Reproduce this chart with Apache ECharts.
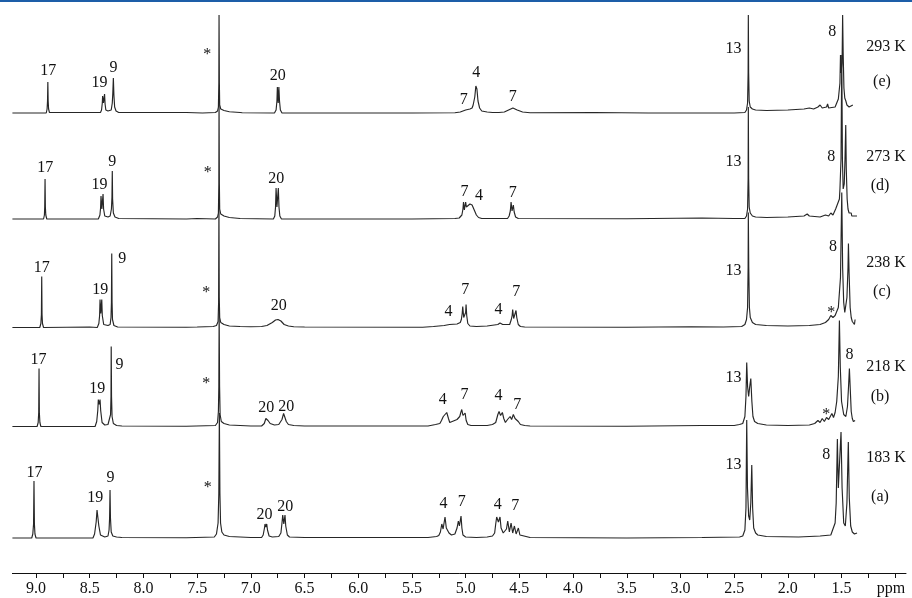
<!DOCTYPE html>
<html>
<head>
<meta charset="utf-8">
<script src="https://cdn.jsdelivr.net/npm/echarts@6/dist/echarts.min.js"></script>
<style>html,body{margin:0;padding:0;background:#fff}#c{width:912px;height:598px}</style>
</head>
<body>
<div id="c"></div>
<script>
// ---- tick values (ppm) ----
const tickValues = [9.0,8.75,8.5,8.25,8.0,7.75,7.5,7.25,7.0,6.75,6.5,6.25,6.0,5.75,5.5,5.25,5.0,4.75,4.5,4.25,4.0,3.75,3.5,3.25,3.0,2.75,2.5,2.25,2.0,1.75,1.5,1.25,1.0];
const labelValues = [9.0,8.5,8.0,7.5,7.0,6.5,6.0,5.5,5.0,4.5,4.0,3.5,3.0,2.5,2.0,1.5];
const unitLabel = 'ppm';

// ---- temperatures / panel letters (top to bottom) ----
const temps = ['293 K','273 K','238 K','218 K','183 K'];
const panels = ['(e)','(d)','(c)','(b)','(a)'];

// ---- spectra: [ppm, intensity] ----
const spec293 = [[9.22,0],[8.905,0],[8.897,4],[8.893,12],[8.89,31],[8.887,12],[8.883,4],[8.875,0.5],
[8.40,0.5],[8.39,3],[8.383,10],[8.38,17],[8.372,10],[8.366,12],[8.362,19],[8.357,9],[8.35,3],
[8.33,2],[8.30,3],[8.29,10],[8.285,20],[8.28,35],[8.275,18],[8.268,6],[8.255,2],[8.23,0.5],
[7.6,0.5],[7.45,0],[7.33,0.5],[7.31,2],[7.302,6],[7.298,30],[7.296,98],[7.293,30],[7.29,8],[7.28,4],[7.25,2.5],[7.2,1.2],[7.1,0.5],
[7.09,0.3],[7.085,2],[7.08,0.3],
[6.78,0],[6.765,3],[6.757,12],[6.753,26],[6.745,10],[6.739,26],[6.733,12],[6.725,3],[6.71,0],
[6.45,0],[6.445,2],[6.44,0],
[5.5,0],[5.1,0.3],[5.05,1],[5.0,3],[4.96,4],[4.94,5],[4.93,8],[4.915,16],[4.905,27],[4.895,24],[4.885,12],[4.87,5],[4.85,2],[4.8,1],[4.75,0.5],
[4.71,0.5],[4.70,2],[4.69,0.5],
[4.64,1],[4.6,3],[4.56,5],[4.52,3],[4.47,1],[4.4,0.3],
[3.8,0.5],[3.3,0],[2.52,0],[2.51,2],[2.50,0],
[2.40,0.5],[2.385,3],[2.375,10],[2.37,40],[2.368,98],[2.365,40],[2.36,12],[2.35,6],[2.33,4],[2.3,3],[2.2,2.5],[2.0,3],[1.85,4],
[1.80,5],[1.76,4],[1.72,6],[1.70,8],[1.68,5],[1.64,6],[1.63,9],[1.62,5],
[1.56,6],[1.53,14],[1.515,30],[1.51,58],[1.505,40],[1.495,50],[1.49,98],[1.485,60],[1.478,25],[1.47,15],[1.46,12],[1.45,8],[1.44,10],[1.43,6],[1.395,8]];

const spec273 = [[9.22,0],[8.93,0],[8.922,4],[8.919,12],[8.916,40],[8.913,12],[8.909,4],[8.9,0],
[8.42,0],[8.405,4],[8.399,11],[8.395,23],[8.387,10],[8.38,12],[8.376,25],[8.371,10],[8.36,3],[8.33,2],
[8.31,3],[8.298,10],[8.293,22],[8.29,48],[8.287,20],[8.28,6],[8.265,2],[8.23,0.5],
[7.6,0],[7.5,0.5],[7.33,0],[7.31,2],[7.302,6],[7.298,35],[7.296,120],[7.293,35],[7.29,10],[7.28,5],[7.25,3],[7.2,1.5],[7.1,0.5],
[6.79,0],[6.777,3],[6.77,12],[6.765,31],[6.757,12],[6.749,12],[6.744,31],[6.738,12],[6.73,3],[6.715,0],
[5.5,0],[5.1,0.5],[5.06,1],[5.035,4],[5.025,10],[5.02,17],[5.012,9],[5.004,10],[5.0,17],[4.993,12],[4.98,13],[4.96,15],[4.94,14],[4.92,9],[4.9,4],[4.88,1.5],[4.85,0.5],
[4.61,0.5],[4.595,3],[4.584,8],[4.577,17],[4.568,8],[4.561,8],[4.556,14],[4.548,7],[4.535,2],[4.51,0.5],
[3.5,0.3],[2.8,1],[2.5,0.5],
[2.40,0.5],[2.385,3],[2.375,10],[2.37,40],[2.368,112],[2.365,40],[2.36,12],[2.35,6],[2.33,3],[2.3,2],[2.2,1.5],[2.0,2],
[1.85,3],[1.82,5],[1.80,3],[1.70,2],[1.65,4],[1.62,3],[1.60,6],[1.58,4],[1.555,10],[1.54,8],[1.52,20],
[1.515,30],[1.505,60],[1.498,164],[1.492,60],[1.485,30],[1.475,35],[1.468,60],[1.461,94],[1.456,50],[1.448,20],[1.44,10],[1.43,6],[1.42,4],[1.41,6],[1.405,3],[1.356,3]];

const spec238 = [[9.22,0],[8.965,0],[8.955,4],[8.95,13],[8.947,51],[8.944,13],[8.94,4],[8.93,0],
[8.5,0.5],[8.43,0],[8.415,4],[8.408,12],[8.404,28],[8.397,14],[8.392,14],[8.388,28],[8.383,12],[8.37,3],[8.33,2],
[8.31,3],[8.302,10],[8.298,25],[8.295,74],[8.292,25],[8.288,8],[8.275,2],[8.24,0.5],
[7.6,0.3],[7.5,0.5],[7.35,1],[7.32,2],[7.305,6],[7.3,25],[7.297,125],[7.294,30],[7.29,10],[7.28,5],[7.25,3],[7.2,1.5],[7.1,1],[7.0,0.8],
[6.9,1],[6.85,2],[6.8,5],[6.77,7.5],[6.747,8],[6.72,6.5],[6.69,3],[6.65,1.5],[6.6,0.8],[6.5,0.5],
[5.4,0.3],[5.3,1],[5.2,2],[5.15,3],[5.08,3.5],[5.05,5],
[5.04,8],[5.032,14],[5.027,21],[5.018,10],[5.012,9],[5.0,15],[4.996,23],[4.99,12],[4.98,4],[4.96,1.5],[4.9,1],[4.8,1.5],[4.7,3],[4.68,4.5],[4.664,5.7],[4.655,3],[4.64,2],
[4.59,3],[4.575,8],[4.567,12],[4.562,18],[4.553,9],[4.54,9],[4.531,17],[4.524,10],[4.51,3],[4.49,1],[4.45,0.5],
[3.5,0.3],[2.9,0.8],[2.6,0.5],
[2.43,1],[2.40,3],[2.385,8],[2.375,20],[2.37,60],[2.368,115],[2.364,60],[2.358,20],[2.35,10],[2.33,5],[2.3,3],[2.2,2],[2.0,1.5],[1.8,2],[1.7,3],
[1.65,5],[1.62,8],[1.6,12],[1.59,14],[1.58,10],[1.57,8],[1.56,12],
[1.53,20],[1.51,50],[1.498,135],[1.49,60],[1.48,25],[1.47,15],[1.46,14],[1.45,30],[1.44,60],[1.436,84],[1.43,55],[1.42,20],[1.41,10],[1.40,6],[1.39,4],[1.38,3],[1.374,8]];

const spec218 = [[9.22,0],[8.99,0],[8.98,4],[8.975,14],[8.972,58],[8.969,14],[8.964,4],[8.955,0],
[8.45,0],[8.435,5],[8.425,16],[8.42,27],[8.413,22],[8.404,27],[8.398,16],[8.385,4],[8.36,1.5],[8.33,2],
[8.315,4],[8.306,12],[8.302,30],[8.30,80],[8.297,30],[8.292,10],[8.28,3],[8.25,1],[8.2,0.5],
[7.6,0.3],[7.33,1],[7.31,4],[7.302,15],[7.298,40],[7.295,115],[7.291,40],[7.286,12],[7.275,5],[7.25,3],[7.2,1.5],[7.1,1],[7.0,0.5],
[6.9,0.5],[6.875,3],[6.86,8],[6.852,9],[6.84,6],[6.82,3],[6.78,1.5],[6.74,2],[6.71,7],[6.695,13],[6.685,12],[6.67,5],[6.65,2],[6.6,1],[6.5,0.5],
[5.35,0.5],[5.28,2],[5.24,3],[5.225,6],[5.208,10],[5.195,8],[5.176,14],[5.16,8],[5.148,4],[5.13,5],
[5.08,7],[5.055,10],[5.045,14],[5.036,17],[5.025,11],[5.015,12],[5.005,13.5],[4.995,6],[4.98,2],[4.95,1],[4.8,1],[4.75,2],
[4.72,4],[4.70,12],[4.689,15],[4.675,11],[4.658,14],[4.645,8],[4.63,4],
[4.61,7],[4.597,8],[4.586,10],[4.572,7],[4.556,12],[4.54,8],[4.524,10],[4.51,5],[4.49,2],[4.45,1],[4.4,0.5],
[3.5,0.3],[2.8,1],[2.5,1],[2.45,2],
[2.42,3],[2.40,10],[2.39,30],[2.383,64],[2.375,40],[2.365,30],[2.355,40],[2.345,48],[2.335,25],[2.325,10],[2.31,5],[2.28,3],[2.2,1.5],[2.0,1],[1.8,1.5],
[1.75,3],[1.72,6],[1.70,4],[1.68,8],[1.66,5],[1.64,9],[1.62,7],[1.59,13],[1.575,9],[1.56,14],
[1.545,25],[1.53,50],[1.52,106],[1.512,60],[1.50,25],[1.48,12],[1.46,10],[1.445,20],[1.435,40],[1.427,58],[1.42,40],[1.41,15],[1.40,8],[1.39,5],[1.374,6]];

const spec183 = [[9.22,0],[9.04,0],[9.03,4],[9.023,14],[9.019,57],[9.015,14],[9.01,4],[9.0,0],
[8.47,0],[8.455,4],[8.44,16],[8.432,28],[8.425,26],[8.415,12],[8.4,3],[8.36,1],
[8.33,2],[8.32,8],[8.315,20],[8.311,48],[8.307,20],[8.3,6],[8.285,2],[8.25,1],[8.2,0.5],
[7.6,0.3],[7.34,1],[7.32,4],[7.305,15],[7.298,45],[7.293,125],[7.288,45],[7.282,15],[7.27,6],[7.25,3],[7.2,1.5],[7.1,1],[7.0,0.5],
[6.9,0.5],[6.885,3],[6.873,10],[6.868,14],[6.86,11],[6.852,14],[6.845,8],[6.83,2],[6.8,1],[6.74,1.5],[6.72,5],[6.71,15],[6.703,23],[6.693,14],[6.682,23],[6.675,12],[6.66,3],[6.64,1],[6.5,0.5],
[5.35,0.5],[5.27,1.5],[5.25,2.5],[5.235,6],[5.222,14],[5.21,9],[5.192,21],[5.18,10],[5.167,12],[5.155,5],[5.145,6],[5.132,3],
[5.1,4],[5.08,10],[5.068,17],[5.058,12],[5.043,22],[5.035,10],[5.025,3],[5.0,1],[4.9,0.5],[4.8,1],[4.75,2],
[4.73,5],[4.72,14],[4.711,21],[4.695,16],[4.68,21],[4.67,10],[4.65,5],
[4.62,9],[4.608,17],[4.593,6],[4.577,15],[4.562,5],[4.546,12],[4.53,4],[4.509,10],[4.495,3],[4.48,1],[4.4,0.5],
[3.5,0],[2.8,0.5],[2.45,1],
[2.42,2],[2.40,8],[2.39,30],[2.383,118],[2.376,50],[2.365,22],[2.355,18],[2.345,35],[2.336,73],[2.328,30],[2.318,10],[2.30,5],[2.28,3],[2.2,1.5],[1.9,1],[1.7,2],
[1.6,3],[1.59,6],[1.58,5],[1.56,15],[1.55,35],[1.539,99],[1.53,50],[1.52,50],[1.505,106],[1.495,50],[1.48,15],[1.465,12],[1.45,35],[1.437,96],[1.428,40],[1.415,12],[1.40,6],[1.38,4],[1.356,5]];

// ---- peak assignment labels: [ppm, height, text] ----
const lab293 = [[8.882,42,'17'],[8.404,30,'19'],[8.274,45,'9'],[7.401,63,'*'],[6.744,37,'20'],[5.012,13,'7'],[4.897,40,'4'],[4.556,16,'7'],[2.501,64,'13'],[1.582,81,'8']];
const lab273 = [[8.910,51,'17'],[8.404,34,'19'],[8.286,57,'9'],[7.396,51,'*'],[6.759,40,'20'],[5.006,27,'7'],[4.872,23,'4'],[4.556,26,'7'],[2.501,57,'13'],[1.591,62,'8']];
const lab238 = [[8.941,59,'17'],[8.398,37,'19'],[8.193,68,'9'],[7.411,39,'*'],[6.735,21,'20'],[5.155,15,'4'],[4.999,37,'7'],[4.689,17,'4'],[4.524,35,'7'],[2.501,56,'13'],[1.591,19,'*'],[1.576,80,'8']];
const lab218 = [[8.972,66,'17'],[8.426,37,'19'],[8.218,61,'9'],[7.411,47,'*'],[6.852,18,'20'],[6.666,19,'20'],[5.208,26,'4'],[5.006,31,'7'],[4.689,30,'4'],[4.515,21,'7'],[2.501,48,'13'],[1.638,16,'*'],[1.421,71,'8']];
const lab183 = [[9.009,65,'17'],[8.444,40,'19'],[8.302,60,'9'],[7.396,55,'*'],[6.868,23,'20'],[6.675,31,'20'],[5.201,34,'4'],[5.031,36,'7'],[4.696,33,'4'],[4.534,32,'7'],[2.501,73,'13'],[1.638,83,'8']];

const spectra = [spec293, spec273, spec238, spec218, spec183];
const labels = [lab293, lab273, lab238, lab218, lab183];

// ---- layout (pixels) ----
const baselines = [113, 219, 327.5, 426.5, 538];
const tempPos = [[886,47,882,82],[886,157,880,186],[886,263,882,292],[886,367,880,397],[886,458,880,497]];
const gridH = 100;
const axisGap = 35;
const serif = 'Liberation Serif';
const ink = '#111';

const grids = [], xAxes = [], yAxes = [], series = [], graphics = [];
baselines.forEach((b, i) => {
  const last = i === baselines.length - 1;
  grids.push({left: 12.4, right: 6, top: b - gridH, height: gridH + (last ? axisGap : 0)});
  xAxes.push({
    gridIndex: i, type: 'value', inverse: true, min: 0.9, max: 9.22,
    show: last,
    axisLine: {show: true, onZero: false, lineStyle: {color: ink, width: 1}},
    axisTick: {show: true, length: 5, inside: false, lineStyle: {color: ink}, customValues: tickValues},
    axisLabel: {show: true, customValues: labelValues.concat([1.04]), margin: 8,
      fontFamily: serif, fontSize: 16, color: ink,
      formatter: v => (Math.abs(v - 1.04) < 1e-6 ? unitLabel : v.toFixed(1))},
    splitLine: {show: false}
  });
  yAxes.push({gridIndex: i, type: 'value', min: last ? -axisGap : 0, max: gridH, show: false});
  series.push({
    type: 'line', xAxisIndex: i, yAxisIndex: i, data: spectra[i],
    showSymbol: false, symbol: 'none', clip: false, smooth: false,
    lineStyle: {color: '#262626', width: 1.15}, silent: true, z: 2
  });
  series.push({
    type: 'scatter', xAxisIndex: i, yAxisIndex: i, symbolSize: 1,
    itemStyle: {color: 'rgba(255,255,255,0)'}, clip: false, silent: true, z: 5,
    data: labels[i].map(l => ({value: [l[0], l[1]], name: l[2],
      label: l[2] === '*' ? {offset: [0, 5]} : undefined})),
    label: {show: true, position: [0, 0], align: 'center', verticalAlign: 'middle',
      formatter: '{b}', fontFamily: serif, fontSize: 16, color: ink,
      textBorderWidth: 0, opacity: 1}
  });
  const p = tempPos[i];
  graphics.push({type: 'text', x: p[0], y: p[1], style: {text: temps[i], font: '16px "Liberation Serif"', fill: ink, textAlign: 'center', textVerticalAlign: 'middle'}});
  graphics.push({type: 'text', x: p[2], y: p[3], style: {text: panels[i], font: '16px "Liberation Serif"', fill: ink, textAlign: 'center', textVerticalAlign: 'middle'}});
});
graphics.push({type: 'rect', shape: {x: 0, y: 0, width: 912, height: 2}, style: {fill: '#1d5ea8'}});

const chart = echarts.init(document.getElementById('c'), null, {renderer: 'canvas'});
chart.setOption({
  animation: false,
  backgroundColor: '#fff',
  grid: grids, xAxis: xAxes, yAxis: yAxes, series: series, graphic: graphics
});
</script>
</body>
</html>
